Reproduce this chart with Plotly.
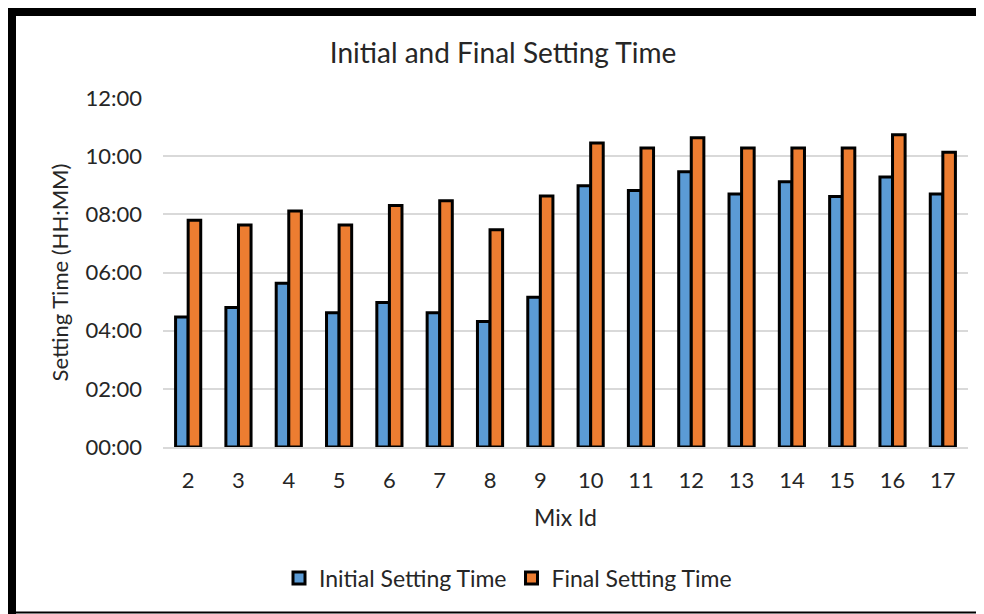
import plotly.graph_objects as go

mix_ids = ["2", "3", "4", "5", "6", "7", "8", "9", "10", "11", "12", "13", "14", "15", "16", "17"]
initial_hhmm = ["04:28", "04:48", "05:38", "04:37", "04:58", "04:37", "04:19", "05:09",
                "08:59", "08:49", "09:28", "08:42", "09:07", "08:37", "09:17", "08:42"]
final_hhmm = ["07:48", "07:38", "08:07", "07:38", "08:18", "08:28", "07:28", "08:38",
              "10:27", "10:17", "10:38", "10:17", "10:17", "10:17", "10:44", "10:08"]
tick_hours = [0, 2, 4, 6, 8, 10, 12]
tick_labels = ["00:00", "02:00", "04:00", "06:00", "08:00", "10:00", "12:00"]


def to_hours(s):
    h, m = s.split(":")
    return int(h) + int(m) / 60.0


initial = [to_hours(s) for s in initial_hhmm]
final = [to_hours(s) for s in final_hhmm]

FONT = "Lato"
TXT = "#262626"
fig = go.Figure()
fig.add_trace(go.Bar(x=mix_ids, y=initial, name="Initial Setting Time",
                     marker=dict(color="#5B9BD5", line=dict(color="black", width=3)),
                     customdata=initial_hhmm, hovertemplate="%{customdata}"))
fig.add_trace(go.Bar(x=mix_ids, y=final, name="Final Setting Time",
                     marker=dict(color="#ED7D31", line=dict(color="black", width=3)),
                     customdata=final_hhmm, hovertemplate="%{customdata}"))

# page body has an 8px margin; work in figure pixels = screen pixels - 8
OFF = 8
W, H = 976, 606
L, R, T, B = 163 - OFF, 16, 98 - OFF, 614 - 447 - OFF + 8
pw = W - L - R
ph = H - T - B


def px(x):
    return (x - OFF - L) / pw


def py(y):
    return (H - B - (y - OFF)) / ph


fig.update_layout(
    width=W, height=H,
    margin=dict(l=L, r=R, t=T, b=B),
    paper_bgcolor="white", plot_bgcolor="white",
    barmode="group", bargap=0.5, bargroupgap=0,
    font=dict(family=FONT, color=TXT),
    title=dict(text="Initial and Final Setting Time", xref="container", x=(503 - OFF) / W,
               xanchor="center", yref="container", y=1 - (53 - OFF) / H, yanchor="middle",
               font=dict(size=28, family=FONT, color=TXT)),
    xaxis=dict(title=dict(text="Mix Id", font=dict(size=23), standoff=18),
               tickfont=dict(size=22), showline=True, linecolor="#d9d9d9", linewidth=1.5,
               ticks="", showgrid=False, ticklabelstandoff=13),
    yaxis=dict(title=dict(text="Setting Time (HH:MM)", font=dict(size=22), standoff=10),
               range=[0, 12], tickvals=tick_hours, ticktext=tick_labels,
               tickfont=dict(size=22), showgrid=True, gridcolor="#d9d9d9", gridwidth=1.5,
               zeroline=False, ticks="", ticklabelstandoff=20),
    legend=dict(orientation="h", x=px(508), xanchor="center", y=py(578), yanchor="middle",
                font=dict(size=23), itemwidth=30, traceorder="normal"),
    shapes=[
        dict(type="line", xref="paper", yref="paper", x0=px(12), x1=px(12), y0=py(8), y1=py(630),
             line=dict(color="black", width=8)),
        dict(type="line", xref="paper", yref="paper", x0=px(8), x1=px(1000), y0=py(12), y1=py(12),
             line=dict(color="black", width=8)),
        dict(type="line", xref="paper", yref="paper", x0=px(8), x1=px(1000), y0=py(612.5), y1=py(612.5),
             line=dict(color="black", width=2)),
    ],
)

fig.write_html("out.html")
